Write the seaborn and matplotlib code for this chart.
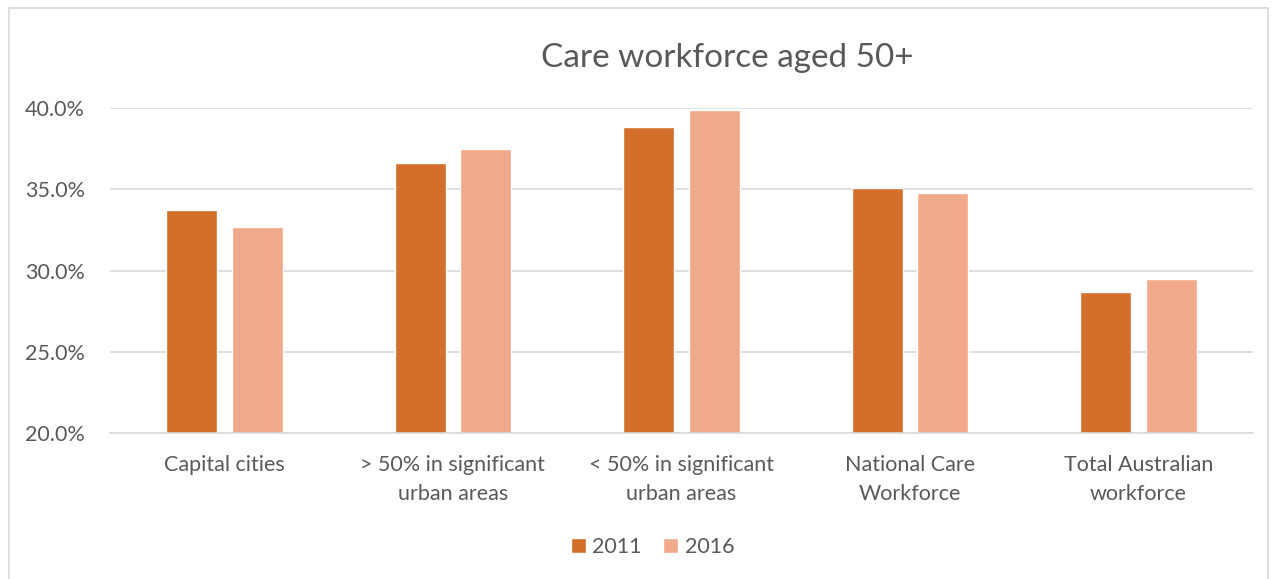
import matplotlib
matplotlib.use("Agg")
import matplotlib.pyplot as plt
import seaborn as sns
import pandas as pd
from matplotlib.patches import Rectangle
from matplotlib.ticker import FuncFormatter

categories = ["Capital cities", "> 50% in significant\nurban areas", "< 50% in significant\nurban areas",
              "National Care\nWorkforce", "Total Australian\nworkforce"]
years = ["2011", "2016"]
values_2011 = [33.7, 36.6, 38.8, 35.1, 28.7]
values_2016 = [32.7, 37.5, 39.9, 34.8, 29.5]
colors = ["#D36F2B", "#F1A98B"]

df = pd.DataFrame({
    "category": categories * 2,
    "year": [years[0]] * 5 + [years[1]] * 5,
    "value": values_2011 + values_2016,
})

sns.set_theme(style="white")
plt.rcParams["font.family"] = ["Lato", "DejaVu Sans"]
text_color = "#595959"

fig = plt.figure(figsize=(12.72, 5.79), dpi=100)
ax = fig.add_axes([0.0865, 0.252, 0.8985, 0.5615])

sns.barplot(data=df, x="category", y="value", hue="year", palette=colors,
            width=0.573, gap=0.22, ax=ax, saturation=1, legend=True)

ax.set_ylim(20, 40)
ax.set_yticks([20, 25, 30, 35, 40])
ax.yaxis.set_major_formatter(FuncFormatter(lambda v, p: f"{v:.1f}%"))
ax.grid(axis="y", color="#d9d9d9", linewidth=1.2)
ax.set_axisbelow(True)
for s in ["top", "right", "left"]:
    ax.spines[s].set_visible(False)
ax.spines["bottom"].set_color("#d9d9d9")
ax.spines["bottom"].set_linewidth(1.2)
ax.tick_params(axis="both", length=0, colors=text_color, labelsize=15.5)
ax.tick_params(axis="x", pad=16)
ax.tick_params(axis="y", pad=18)
for lbl in ax.get_xticklabels():
    lbl.set_linespacing(1.55)
ax.set_xlabel("")
ax.set_ylabel("")

fig.text(0.5716, 0.9, "Care workforce aged 50+", ha="center", va="center",
         fontsize=24, color=text_color)

handles, labels = ax.get_legend_handles_labels()
ax.legend_.remove()
fig.legend(handles, labels, loc="center", bbox_to_anchor=(0.513, 0.055), ncol=2,
           frameon=False, fontsize=15.5, labelcolor=text_color,
           handlelength=0.7, handleheight=0.7, handletextpad=0.3, columnspacing=1.0)

fig.patches.append(Rectangle((0.007, -0.01), 0.99, 0.996, transform=fig.transFigure,
                             fill=False, edgecolor="#d9d9d9", linewidth=1.2))

fig.savefig("out.png", dpi=100, facecolor="white")
